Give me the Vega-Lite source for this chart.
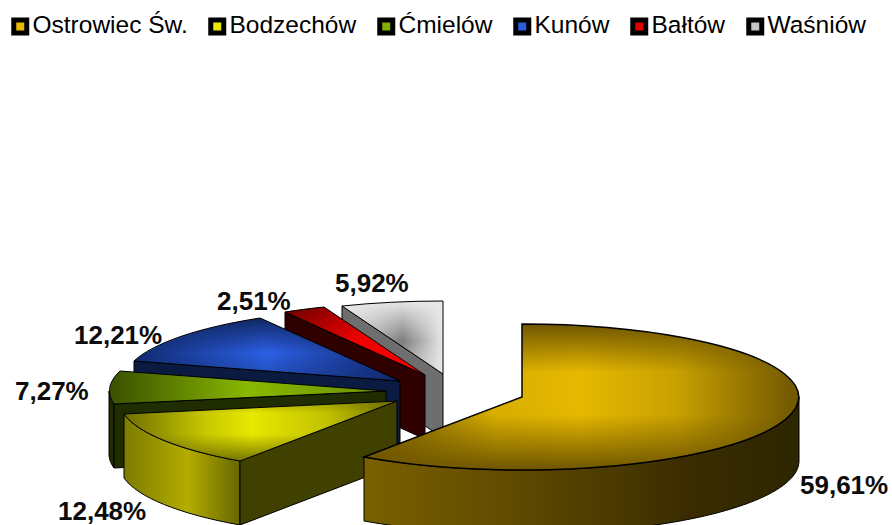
{"$schema":"https://vega.github.io/schema/vega-lite/v6.json","width":892,"height":525,"padding":0,"autosize":{"type":"none"},"background":"#ffffff","view":{"stroke":null},"config":{"font":"Liberation Sans"},
"data":{"values":[{"gmina":"Ostrowiec Św.","share":59.61,"label":"59,61%"},{"gmina":"Bodzechów","share":12.48,"label":"12,48%"},{"gmina":"Ćmielów","share":7.27,"label":"7,27%"},{"gmina":"Kunów","share":12.21,"label":"12,21%"},{"gmina":"Bałtów","share":2.51,"label":"2,51%"},{"gmina":"Waśniów","share":5.92,"label":"5,92%"}]},
"encoding":{"x":{"value":0},"y":{"value":0}},
"layer":[
{"mark":{"type":"point","filled":true,"opacity":0,"size":4,"stroke":"#000000","strokeWidth":5},"encoding":{"color":{"field":"gmina","type":"nominal","sort":null,"scale":{"domain":["Ostrowiec Św.","Bodzechów","Ćmielów","Kunów","Bałtów","Waśniów"],"range":["#e6b800","#e8e800","#80b000","#2a5ce0","#e00000","#c4c4c4"]},"legend":{"orient":"none","legendX":8,"legendY":14,"direction":"horizontal","columns":6,"title":null,"labelFontSize":24.5,"labelFont":"Liberation Sans","labelColor":"#000000","labelOffset":0,"columnPadding":12,"symbolType":"square","symbolSize":169,"symbolOpacity":1,"symbolStrokeColor":"#000000","symbolStrokeWidth":5}}}},
{"transform":[{"filter":"datum.gmina==='Waśniów'"}],"mark":{"type":"point","filled":true,"size":4,"opacity":1,"shape":"M443 374 L342 306 L342 370 L443 438 Z","fill":"#6e6e6e","stroke":"#000000","strokeWidth":1}},
{"transform":[{"filter":"datum.gmina==='Waśniów'"}],"mark":{"type":"point","filled":true,"size":4,"opacity":1,"shape":"M443 374 L342 306 A277 73 0 0 1 443 301 Z","fill":{"gradient":"linear","x1":0,"y1":0,"x2":1,"y2":0,"stops":[{"offset":0,"color":"#e8e8e8"},{"offset":0.6,"color":"#7c7c7c"},{"offset":1,"color":"#e8e8e8"}]}}},
{"transform":[{"filter":"datum.gmina==='Waśniów'"}],"mark":{"type":"point","filled":true,"size":4,"opacity":1,"shape":"M443 374 L342 306 A277 73 0 0 1 443 301 Z","fill":{"gradient":"linear","x1":0,"y1":0,"x2":0,"y2":1,"stops":[{"offset":0,"color":"rgba(232,232,232,1)"},{"offset":0.55,"color":"rgba(232,232,232,0)"},{"offset":1,"color":"rgba(232,232,232,0.6)"}]},"stroke":"#000000","strokeWidth":1}},
{"transform":[{"filter":"datum.gmina==='Bałtów'"}],"mark":{"type":"point","filled":true,"size":4,"opacity":1,"shape":"M425 375 L285 312 L285 376 L425 439 Z","fill":"#2e0000","stroke":"#000000","strokeWidth":1}},
{"transform":[{"filter":"datum.gmina==='Bałtów'"}],"mark":{"type":"point","filled":true,"size":4,"opacity":1,"shape":"M425 375 L285 312 A277 73 0 0 1 324 307 Z","fill":{"gradient":"linear","x1":0,"y1":0,"x2":1,"y2":1,"stops":[{"offset":0,"color":"#6a0000"},{"offset":0.5,"color":"#f00000"},{"offset":1,"color":"#ff0000"}]},"stroke":"#000000","strokeWidth":1}},
{"transform":[{"filter":"datum.gmina==='Kunów'"}],"mark":{"type":"point","filled":true,"size":4,"opacity":1,"shape":"M400 381 L134 361 L134 425 L400 445 Z","fill":"#0a1a40","stroke":"#000000","strokeWidth":1}},
{"transform":[{"filter":"datum.gmina==='Kunów'"}],"mark":{"type":"point","filled":true,"size":4,"opacity":1,"shape":"M400 381 L134 361 A277 73 0 0 1 260 318 Z","fill":{"gradient":"linear","x1":0,"y1":0,"x2":1,"y2":0,"stops":[{"offset":0,"color":"#102a70"},{"offset":0.5,"color":"#2c60e6"},{"offset":1,"color":"#102a70"}]}}},
{"transform":[{"filter":"datum.gmina==='Kunów'"}],"mark":{"type":"point","filled":true,"size":4,"opacity":1,"shape":"M400 381 L134 361 A277 73 0 0 1 260 318 Z","fill":{"gradient":"linear","x1":0,"y1":0,"x2":0,"y2":1,"stops":[{"offset":0,"color":"rgba(16,38,96,1)"},{"offset":0.55,"color":"rgba(16,38,96,0)"},{"offset":1,"color":"rgba(16,38,96,0.4)"}]},"stroke":"#000000","strokeWidth":1}},
{"transform":[{"filter":"datum.gmina==='Ćmielów'"}],"mark":{"type":"point","filled":true,"size":4,"opacity":1,"shape":"M114 404 A277 73 0 0 1 109 391 L109 455 A277 73 0 0 0 114 468 Z","fill":"#1f2d00","stroke":"#000000","strokeWidth":1}},
{"transform":[{"filter":"datum.gmina==='Ćmielów'"}],"mark":{"type":"point","filled":true,"size":4,"opacity":1,"shape":"M386 391 L114 404 L114 468 L386 455 Z","fill":"#1f2d00","stroke":"#000000","strokeWidth":1}},
{"transform":[{"filter":"datum.gmina==='Ćmielów'"}],"mark":{"type":"point","filled":true,"size":4,"opacity":1,"shape":"M386 391 L114 404 A277 73 0 0 1 120 371 Z","fill":{"gradient":"linear","x1":0,"y1":0,"x2":1,"y2":0,"stops":[{"offset":0,"color":"#3a5000"},{"offset":0.5,"color":"#88b800"},{"offset":1,"color":"#6a9000"}]},"stroke":"#000000","strokeWidth":1}},
{"transform":[{"filter":"datum.gmina==='Bodzechów'"}],"mark":{"type":"point","filled":true,"size":4,"opacity":1,"shape":"M240 461 A277 73 0 0 1 124 414 L124 478 A277 73 0 0 0 240 525 Z","fill":{"gradient":"linear","x1":0,"y1":0,"x2":1,"y2":0,"stops":[{"offset":0,"color":"#7c7c00"},{"offset":0.55,"color":"#b4ac00"},{"offset":1,"color":"#666600"}]},"stroke":"#000000","strokeWidth":1}},
{"transform":[{"filter":"datum.gmina==='Bodzechów'"}],"mark":{"type":"point","filled":true,"size":4,"opacity":1,"shape":"M397 401 L240 461 L240 525 L397 465 Z","fill":"#404000","stroke":"#000000","strokeWidth":1}},
{"transform":[{"filter":"datum.gmina==='Bodzechów'"}],"mark":{"type":"point","filled":true,"size":4,"opacity":1,"shape":"M397 401 L240 461 A277 73 0 0 1 124 414 Z","fill":{"gradient":"linear","x1":0,"y1":0,"x2":1,"y2":0,"stops":[{"offset":0,"color":"#6e6e00"},{"offset":0.3,"color":"#c8c800"},{"offset":0.47,"color":"#e8e800"},{"offset":0.75,"color":"#c0c000"},{"offset":1,"color":"#6e6e00"}]}}},
{"transform":[{"filter":"datum.gmina==='Bodzechów'"}],"mark":{"type":"point","filled":true,"size":4,"opacity":1,"shape":"M397 401 L240 461 A277 73 0 0 1 124 414 Z","fill":{"gradient":"linear","x1":0,"y1":0,"x2":0,"y2":1,"stops":[{"offset":0,"color":"rgba(110,110,0,0.5)"},{"offset":0.2,"color":"rgba(110,110,0,0)"},{"offset":0.55,"color":"rgba(110,110,0,0)"},{"offset":1,"color":"rgba(110,110,0,0.95)"}]},"stroke":"#000000","strokeWidth":1}},
{"transform":[{"filter":"datum.gmina==='Ostrowiec Św.'"}],"mark":{"type":"point","filled":true,"size":4,"opacity":1,"shape":"M799 397 A277 73 0 0 1 364 457 L364 521 A277 73 0 0 0 799 461 Z","fill":{"gradient":"linear","x1":0,"y1":0,"x2":1,"y2":0,"stops":[{"offset":0,"color":"#7a6000"},{"offset":0.35,"color":"#5f4a00"},{"offset":0.75,"color":"#3a2c00"},{"offset":1,"color":"#2d2600"}]},"stroke":"#000000","strokeWidth":1}},
{"transform":[{"filter":"datum.gmina==='Ostrowiec Św.'"}],"mark":{"type":"point","filled":true,"size":4,"opacity":1,"shape":"M522 397 L522 324 A277 73 0 1 1 364 457 Z","fill":{"gradient":"linear","x1":0,"y1":0,"x2":1,"y2":0,"stops":[{"offset":0,"color":"#6e5500"},{"offset":0.3,"color":"#d8ae00"},{"offset":0.5,"color":"#e6b800"},{"offset":0.72,"color":"#c8a000"},{"offset":1,"color":"#6e5600"}]}}},
{"transform":[{"filter":"datum.gmina==='Ostrowiec Św.'"}],"mark":{"type":"point","filled":true,"size":4,"opacity":1,"shape":"M522 397 L522 324 A277 73 0 1 1 364 457 Z","fill":{"gradient":"linear","x1":0,"y1":0,"x2":0,"y2":1,"stops":[{"offset":0,"color":"rgba(110,85,0,1)"},{"offset":0.33,"color":"rgba(110,85,0,0)"},{"offset":0.62,"color":"rgba(110,85,0,0)"},{"offset":1,"color":"rgba(110,85,0,1)"}]},"stroke":"#000000","strokeWidth":1.5}},
{"transform":[{"filter":"datum.gmina==='Ostrowiec Św.'"}],"mark":{"type":"text","fontSize":26,"fontWeight":"bold","font":"Liberation Sans","align":"left","baseline":"alphabetic","color":"#000000","opacity":0.95},"encoding":{"x":{"value":800},"y":{"value":494},"text":{"field":"label"}}},
{"transform":[{"filter":"datum.gmina==='Bodzechów'"}],"mark":{"type":"text","fontSize":26,"fontWeight":"bold","font":"Liberation Sans","align":"left","baseline":"alphabetic","color":"#000000","opacity":0.95},"encoding":{"x":{"value":58},"y":{"value":520},"text":{"field":"label"}}},
{"transform":[{"filter":"datum.gmina==='Ćmielów'"}],"mark":{"type":"text","fontSize":26,"fontWeight":"bold","font":"Liberation Sans","align":"left","baseline":"alphabetic","color":"#000000","opacity":0.95},"encoding":{"x":{"value":15},"y":{"value":400},"text":{"field":"label"}}},
{"transform":[{"filter":"datum.gmina==='Kunów'"}],"mark":{"type":"text","fontSize":26,"fontWeight":"bold","font":"Liberation Sans","align":"left","baseline":"alphabetic","color":"#000000","opacity":0.95},"encoding":{"x":{"value":74},"y":{"value":344},"text":{"field":"label"}}},
{"transform":[{"filter":"datum.gmina==='Bałtów'"}],"mark":{"type":"text","fontSize":26,"fontWeight":"bold","font":"Liberation Sans","align":"left","baseline":"alphabetic","color":"#000000","opacity":0.95},"encoding":{"x":{"value":217},"y":{"value":310},"text":{"field":"label"}}},
{"transform":[{"filter":"datum.gmina==='Waśniów'"}],"mark":{"type":"text","fontSize":26,"fontWeight":"bold","font":"Liberation Sans","align":"left","baseline":"alphabetic","color":"#000000","opacity":0.95},"encoding":{"x":{"value":335},"y":{"value":292},"text":{"field":"label"}}}
]}
